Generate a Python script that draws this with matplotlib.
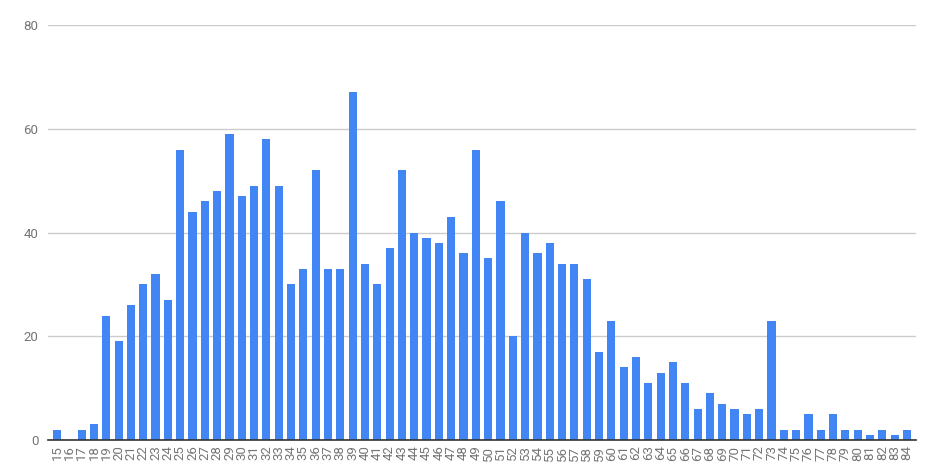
import matplotlib
matplotlib.use("Agg")
import matplotlib.pyplot as plt
from matplotlib.patches import FancyBboxPatch

plt.rcParams['font.family'] = ['Roboto', 'DejaVu Sans']

categories = [str(v) for v in range(15, 85)]
values = [2, 0, 2, 3, 24, 19, 26, 30, 32, 27,
          56, 44, 46, 48, 59, 47, 49, 58, 49, 30,
          33, 52, 33, 33, 67, 34, 30, 37, 52, 40,
          39, 38, 43, 36, 56, 35, 46, 20, 40, 36,
          38, 34, 34, 31, 17, 23, 14, 16, 11, 13,
          15, 11, 6, 9, 7, 6, 5, 6, 23, 2,
          2, 5, 2, 5, 2, 2, 1, 2, 1, 2]
y_ticks = [0, 20, 40, 60, 80]

fig = plt.figure(figsize=(9.32, 4.76), dpi=100)
ax = fig.add_axes([48/932, 1 - 440/476, (916-48)/932, (440-25)/476])

x = list(range(len(categories)))
ax.bar(x, values, width=0.66, color='#4285F4', zorder=3)

ax.set_xlim(-0.73, len(categories) - 1 + 0.73)
ax.set_ylim(0, 80)
ax.set_yticks(y_ticks)
ax.set_yticklabels([str(t) for t in y_ticks])
ax.set_xticks(x)
ax.set_xticklabels(categories, rotation=90, va='top', ha='center')

ax.grid(axis='y', color='#cccccc', linewidth=1, zorder=0)
ax.set_axisbelow(True)
for s in ['top', 'right', 'left']:
    ax.spines[s].set_visible(False)
ax.spines['bottom'].set_color('#333333')
ax.spines['bottom'].set_linewidth(1.2)
ax.spines['bottom'].set_zorder(4)

ax.tick_params(axis='y', length=0, pad=7, labelsize=9.5, labelcolor='#757575')
ax.tick_params(axis='x', length=0, pad=4, labelsize=9.5, labelcolor='#757575')

fig.savefig('out.png', dpi=100)
